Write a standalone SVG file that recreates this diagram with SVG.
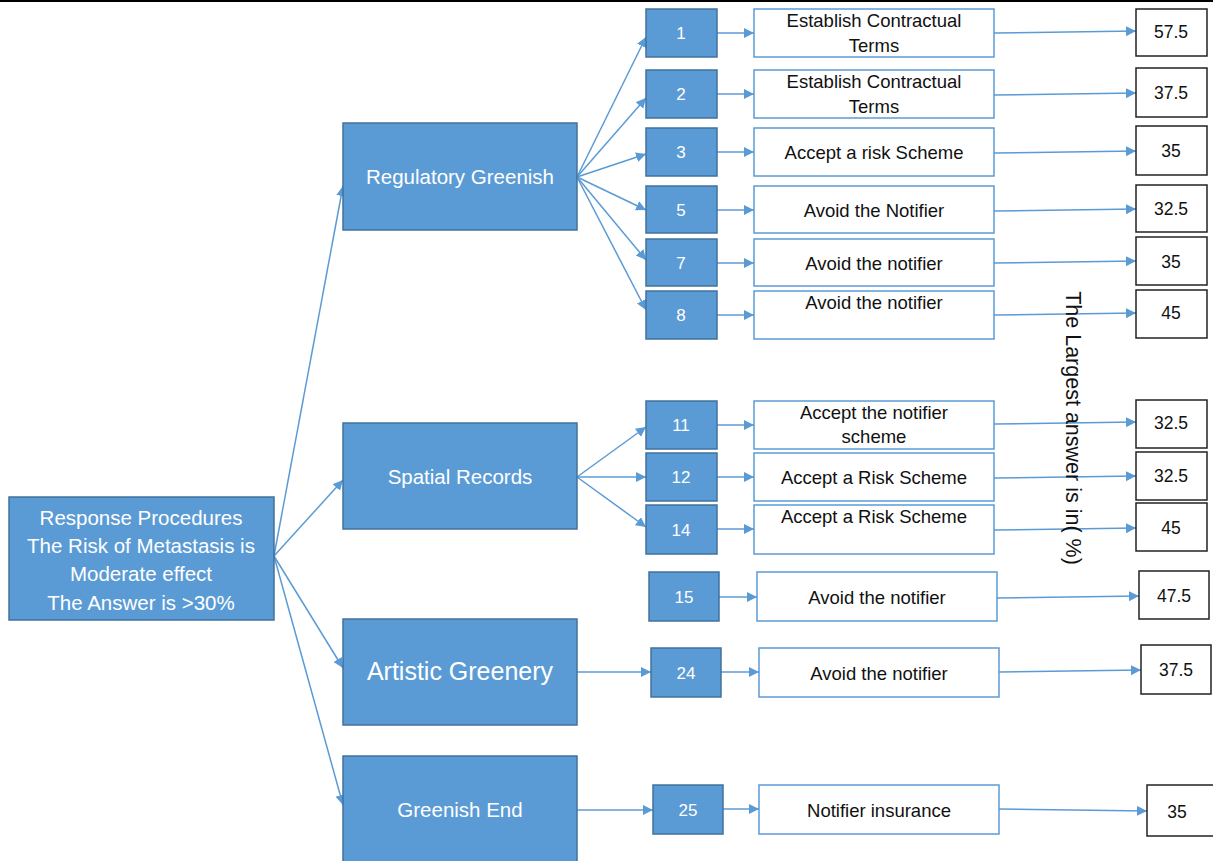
<svg xmlns="http://www.w3.org/2000/svg" width="1213" height="861" viewBox="0 0 1213 861">
<style>
.blue{fill:#5B9BD5;stroke:#41719C;stroke-width:1.5}
.wb{fill:#fff;stroke:#5B9BD5;stroke-width:1.5}
.vb{fill:#fff;stroke:#222;stroke-width:1.5}
.wt{font-family:"Liberation Sans",Arial,sans-serif;fill:#fff;text-anchor:middle}
.dt{font-family:"Liberation Sans",Arial,sans-serif;fill:#111;text-anchor:middle;font-size:18.5px}
.vt{font-family:"Liberation Sans",Arial,sans-serif;fill:#111;text-anchor:middle;font-size:17.5px}
.c{stroke:#5B9BD5;stroke-width:1.5;fill:none;marker-end:url(#ah)}
</style>
<defs>
<marker id="ah" markerUnits="userSpaceOnUse" markerWidth="12" markerHeight="12" refX="10" refY="5" orient="auto">
<path d="M0,0 L10,5 L0,10 z" fill="#5B9BD5"/>
</marker>
</defs>
<rect width="1213" height="861" fill="#fff"/>
<line x1="0" y1="1" x2="1213" y2="1" stroke="#000" stroke-width="2"/>

<g id="connectors">
<line class="c" x1="274" y1="556" x2="343" y2="186"/>
<line class="c" x1="274" y1="556" x2="343" y2="480"/>
<line class="c" x1="274" y1="556" x2="343" y2="668"/>
<line class="c" x1="274" y1="556" x2="343" y2="805"/>
<line class="c" x1="577" y1="177" x2="646" y2="37"/>
<line class="c" x1="577" y1="177" x2="646" y2="98"/>
<line class="c" x1="577" y1="177" x2="646" y2="154"/>
<line class="c" x1="577" y1="177" x2="646" y2="210"/>
<line class="c" x1="577" y1="177" x2="646" y2="260"/>
<line class="c" x1="577" y1="177" x2="646" y2="310"/>
<line class="c" x1="577" y1="477" x2="646" y2="427"/>
<line class="c" x1="577" y1="477" x2="646" y2="477"/>
<line class="c" x1="577" y1="477" x2="646" y2="527"/>
<line class="c" x1="577" y1="672" x2="651" y2="672"/>
<line class="c" x1="577" y1="810" x2="653" y2="810"/>
<line class="c" x1="717" y1="33" x2="754" y2="33"/>
<line class="c" x1="717" y1="94" x2="754" y2="94"/>
<line class="c" x1="717" y1="152" x2="754" y2="152"/>
<line class="c" x1="717" y1="210" x2="754" y2="210"/>
<line class="c" x1="717" y1="263" x2="754" y2="263"/>
<line class="c" x1="717" y1="315" x2="754" y2="315"/>
<line class="c" x1="717" y1="425" x2="754" y2="425"/>
<line class="c" x1="717" y1="477" x2="754" y2="477"/>
<line class="c" x1="717" y1="529" x2="754" y2="529"/>
<line class="c" x1="719" y1="597" x2="757" y2="597"/>
<line class="c" x1="721" y1="672" x2="759" y2="672"/>
<line class="c" x1="723" y1="809" x2="759" y2="809"/>
<line class="c" x1="994" y1="33" x2="1136" y2="31"/>
<line class="c" x1="994" y1="95" x2="1136" y2="93"/>
<line class="c" x1="994" y1="153" x2="1136" y2="151"/>
<line class="c" x1="994" y1="211" x2="1136" y2="209"/>
<line class="c" x1="994" y1="263" x2="1136" y2="261"/>
<line class="c" x1="994" y1="315" x2="1136" y2="313"/>
<line class="c" x1="994" y1="424" x2="1136" y2="422"/>
<line class="c" x1="994" y1="478" x2="1136" y2="476"/>
<line class="c" x1="994" y1="530" x2="1136" y2="528"/>
<line class="c" x1="997" y1="598" x2="1139" y2="596"/>
<line class="c" x1="999" y1="672" x2="1141" y2="670"/>
<line class="c" x1="999" y1="809" x2="1147" y2="811"/>
</g>

<g id="root">
<rect class="blue" x="9" y="497" width="265" height="123"/>
<text class="wt" font-size="20.5" x="141" y="525">Response Procedures</text>
<text class="wt" font-size="20.5" x="141" y="553">The Risk of Metastasis is</text>
<text class="wt" font-size="20.5" x="141" y="581">Moderate  effect</text>
<text class="wt" font-size="20.5" x="141" y="610">The Answer is &gt;30%</text>
</g>

<g id="cat-regulatory"><rect class="blue" x="343" y="123" width="234" height="107"/><text class="wt" font-size="20.5" x="460" y="184">Regulatory Greenish</text></g>
<g id="cat-spatial"><rect class="blue" x="343" y="423" width="234" height="106"/><text class="wt" font-size="20.5" x="460" y="484">Spatial Records</text></g>
<g id="cat-artistic"><rect class="blue" x="343" y="619" width="234" height="106"/><text class="wt" font-size="25" x="460" y="680">Artistic Greenery</text></g>
<g id="cat-end"><rect class="blue" x="343" y="756" width="234" height="110"/><text class="wt" font-size="20.5" x="460" y="817">Greenish End</text></g>

<g id="n1"><rect class="blue" x="646" y="9" width="71" height="48"/><text class="wt" font-size="17" x="681" y="39">1</text></g>
<g id="n2"><rect class="blue" x="646" y="70" width="71" height="48"/><text class="wt" font-size="17" x="681" y="100">2</text></g>
<g id="n3"><rect class="blue" x="646" y="128" width="71" height="48"/><text class="wt" font-size="17" x="681" y="158">3</text></g>
<g id="n5"><rect class="blue" x="646" y="186" width="71" height="47"/><text class="wt" font-size="17" x="681" y="216">5</text></g>
<g id="n7"><rect class="blue" x="646" y="239" width="71" height="47"/><text class="wt" font-size="17" x="681" y="269">7</text></g>
<g id="n8"><rect class="blue" x="646" y="291" width="71" height="48"/><text class="wt" font-size="17" x="681" y="321">8</text></g>
<g id="n11"><rect class="blue" x="646" y="401" width="71" height="48"/><text class="wt" font-size="17" x="681" y="431">11</text></g>
<g id="n12"><rect class="blue" x="646" y="453" width="71" height="48"/><text class="wt" font-size="17" x="681" y="483">12</text></g>
<g id="n14"><rect class="blue" x="646" y="505" width="71" height="49"/><text class="wt" font-size="17" x="681" y="536">14</text></g>
<g id="n15"><rect class="blue" x="649" y="572" width="70" height="49"/><text class="wt" font-size="17" x="684" y="603">15</text></g>
<g id="n24"><rect class="blue" x="651" y="648" width="70" height="49"/><text class="wt" font-size="17" x="686" y="679">24</text></g>
<g id="n25"><rect class="blue" x="653" y="785" width="70" height="49"/><text class="wt" font-size="17" x="688" y="816">25</text></g>

<g id="t1"><rect class="wb" x="754" y="9" width="240" height="48"/><text class="dt" x="874" y="27">Establish Contractual</text><text class="dt" x="874" y="52">Terms</text></g>
<g id="t2"><rect class="wb" x="754" y="70" width="240" height="48"/><text class="dt" x="874" y="88">Establish Contractual</text><text class="dt" x="874" y="113">Terms</text></g>
<g id="t3"><rect class="wb" x="754" y="128" width="240" height="48"/><text class="dt" x="874" y="159">Accept a risk Scheme</text></g>
<g id="t5"><rect class="wb" x="754" y="186" width="240" height="47"/><text class="dt" x="874" y="217">Avoid the Notifier</text></g>
<g id="t7"><rect class="wb" x="754" y="239" width="240" height="47"/><text class="dt" x="874" y="270">Avoid the notifier</text></g>
<g id="t8"><rect class="wb" x="754" y="291" width="240" height="48"/><text class="dt" x="874" y="309">Avoid the notifier</text></g>
<g id="t11"><rect class="wb" x="754" y="401" width="240" height="48"/><text class="dt" x="874" y="419">Accept the notifier</text><text class="dt" x="874" y="443">scheme</text></g>
<g id="t12"><rect class="wb" x="754" y="453" width="240" height="48"/><text class="dt" x="874" y="484">Accept a Risk Scheme</text></g>
<g id="t14"><rect class="wb" x="754" y="505" width="240" height="49"/><text class="dt" x="874" y="523">Accept a Risk Scheme</text></g>
<g id="t15"><rect class="wb" x="757" y="572" width="240" height="49"/><text class="dt" x="877" y="604">Avoid the notifier</text></g>
<g id="t24"><rect class="wb" x="759" y="648" width="240" height="49"/><text class="dt" x="879" y="680">Avoid the notifier</text></g>
<g id="t25"><rect class="wb" x="759" y="785" width="240" height="49"/><text class="dt" x="879" y="817">Notifier insurance</text></g>

<g id="v1"><rect class="vb" x="1136" y="9" width="71" height="47"/><text class="vt" x="1171" y="38">57.5</text></g>
<g id="v2"><rect class="vb" x="1136" y="68" width="71" height="49"/><text class="vt" x="1171" y="99">37.5</text></g>
<g id="v3"><rect class="vb" x="1136" y="126" width="71" height="49"/><text class="vt" x="1171" y="157">35</text></g>
<g id="v5"><rect class="vb" x="1136" y="185" width="71" height="47"/><text class="vt" x="1171" y="215">32.5</text></g>
<g id="v7"><rect class="vb" x="1136" y="237" width="71" height="48"/><text class="vt" x="1171" y="268">35</text></g>
<g id="v8"><rect class="vb" x="1136" y="290" width="71" height="48"/><text class="vt" x="1171" y="319">45</text></g>
<g id="v11"><rect class="vb" x="1136" y="400" width="71" height="48"/><text class="vt" x="1171" y="429">32.5</text></g>
<g id="v12"><rect class="vb" x="1136" y="452" width="71" height="48"/><text class="vt" x="1171" y="482">32.5</text></g>
<g id="v14"><rect class="vb" x="1136" y="503" width="71" height="48"/><text class="vt" x="1171" y="534">45</text></g>
<g id="v15"><rect class="vb" x="1139" y="571" width="70" height="48"/><text class="vt" x="1174" y="602">47.5</text></g>
<g id="v24"><rect class="vb" x="1141" y="645" width="70" height="49"/><text class="vt" x="1176" y="676">37.5</text></g>
<g id="v25"><rect class="vb" x="1147" y="785" width="70" height="51"/><text class="vt" x="1177" y="818">35</text></g>

<text class="dt" font-size="21.5" style="font-size:21.5px" transform="translate(1066,428) rotate(90)" x="0" y="0">The Largest answer is in( %)</text>
</svg>
